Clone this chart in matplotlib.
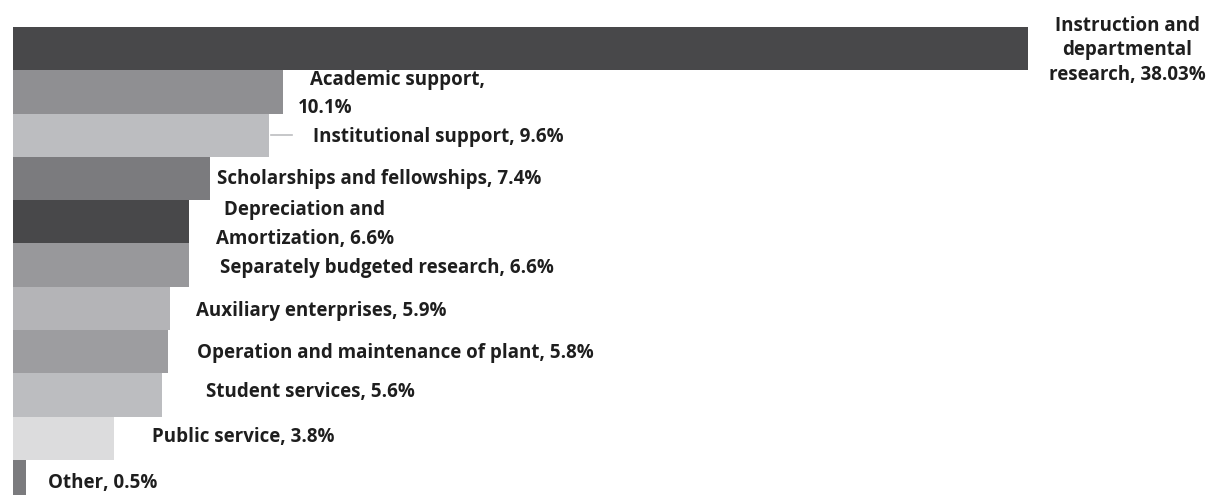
import matplotlib.pyplot as plt

# Expense categories (top to bottom) and their share of total, %
categories = ["Instruction and departmental research", "Academic support",
              "Institutional support", "Scholarships and fellowships",
              "Depreciation and Amortization", "Separately budgeted research",
              "Auxiliary enterprises", "Operation and maintenance of plant",
              "Student services", "Public service", "Other"]
shares = [38.03, 10.1, 9.6, 7.4, 6.6, 6.6, 5.9, 5.8, 5.6, 3.8, 0.5]
labels = ["Instruction and\ndepartmental\nresearch, 38.03%",
          "Academic support,", "Institutional support, 9.6%",
          "Scholarships and fellowships, 7.4%",
          "Depreciation and\nAmortization, 6.6%",
          "Separately budgeted research, 6.6%", "Auxiliary enterprises, 5.9%",
          "Operation and maintenance of plant, 5.8%", "Student services, 5.6%",
          "Public service, 3.8%", "Other, 0.5%"]

colors = ["#48484a", "#8f8f92", "#bcbdc0", "#7b7b7e", "#48484a", "#98989b",
          "#b4b4b7", "#9d9da0", "#bcbdc0", "#dcdcdd", "#7b7b7e"]

# label placement (data units): x, y, horizontal alignment, line spacing
label_pos = [(41.74, 0.04, "center", 1.3), (11.13, 0.72, "left", 1.2),
             (11.24, 2.04, "left", 1.2), (7.64, 3.01, "left", 1.2),
             (10.94, 4.07, "center", 1.6), (7.76, 5.07, "left", 1.2),
             (6.86, 6.06, "left", 1.2), (6.89, 7.03, "left", 1.2),
             (7.23, 7.92, "left", 1.2), (5.21, 8.98, "left", 1.2),
             (1.31, 10.03, "left", 1.2)]

plt.rcParams["font.family"] = ["Open Sans", "DejaVu Sans"]

fig = plt.figure(figsize=(12.14, 4.95), dpi=100)
ax = fig.add_axes([0, 0, 1, 1])
ypos = list(range(len(shares)))
ax.barh(ypos, shares, height=1.0, color=colors, left=0)

for lab, (x, y, ha, ls) in zip(labels, label_pos):
    ax.text(x, y, lab, ha=ha, va="center", fontsize=13.5, fontweight="bold",
            color="#1e1e1e", linespacing=ls, multialignment="center")
# second line of the academic support label
ax.text(10.68, 1.38, "10.1%", ha="left", va="center", fontsize=13.5,
        fontweight="bold", color="#1e1e1e")
# leader line for institutional support
ax.plot([9.67, 10.45], [2.0, 2.0], color="#bcbdc0", lw=1.2)

ax.set_xlim(-0.487, 45.0)
ax.set_ylim(10.31, -1.124)
ax.axis("off")

fig.savefig("out.png", dpi=100)
